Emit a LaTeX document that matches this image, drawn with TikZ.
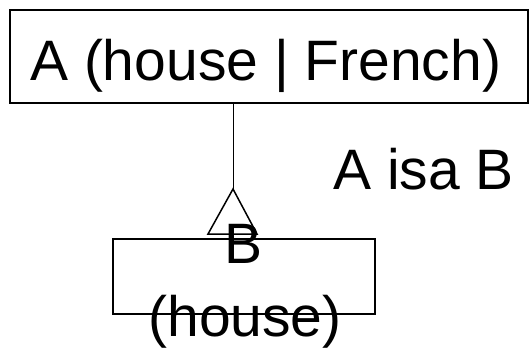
\documentclass[tikz,border=0pt]{standalone}
\usepackage{fontspec}
\setmainfont{Liberation Sans}
\begin{document}
\begin{tikzpicture}[x=1bp,y=1bp,
  box/.style={draw, line width=2bp, inner sep=0pt, outer sep=0pt},
  lbl/.style={inner sep=0pt, font=\fontsize{57bp}{70bp}\selectfont},
  link/.style={draw, line width=1bp},
  headtri/.style={draw, line width=1.5bp, fill=white, line join=miter}]
\useasboundingbox (0,0) rectangle (530,347);
% class boxes
\node[box, minimum width=518bp, minimum height=93bp] (a) at (269,290.5) {};
\node[box, minimum width=262bp, minimum height=75bp] (b) at (244,70.5) {};
% generalisation link with open triangle head
\coordinate (tip) at (233,158);
\draw[link] (a.south -| tip) -- (tip);
\draw[headtri] (tip) -- (208,113) -- (257,113) -- cycle;
% labels
\node[lbl, anchor=base west] (atext) at (30,267) {A (house | French)};
\node[lbl, anchor=base west] (isa) at (333,158) {A isa B};
\node[lbl, anchor=base] (btext) at (244,84) {B};
\node[lbl, anchor=base] (bsub) at (245,11) {(house)};
\end{tikzpicture}
\end{document}
